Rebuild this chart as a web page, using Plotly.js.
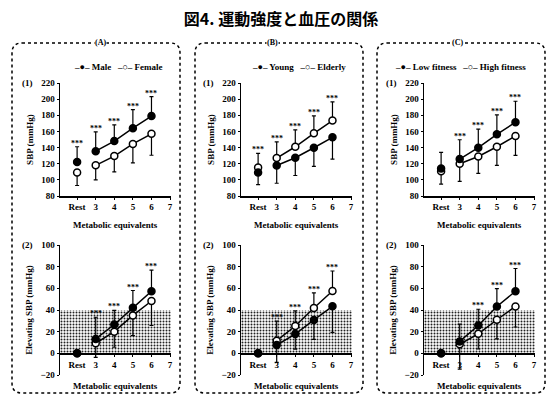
<!DOCTYPE html>
<html><head><meta charset="utf-8">
<script src="https://cdn.plot.ly/plotly-3.0.1.min.js"></script>
<style>html,body{margin:0;padding:0;background:#fff}</style>
</head><body><div id="chart" style="width:549px;height:396px"></div>
<script>
// ---------- data ----------
const stageX = [2, 3, 4, 5, 6];
const tickVals = [2, 3, 4, 5, 6, 7];
const tickText = ['Rest', '3', '4', '5', '6', '7'];
const band = [0, 40];

// (A) sex
const maleSBP = [122, 135.5, 148, 164, 179];
const maleSBPErr = [19, 24, 20, 23, 24];
const femaleSBP = [109, 118, 129.5, 144.5, 157];
const femaleSBPErr = [16, 18, 19.5, 23.5, 26.5];
const maleRise = [0, 13.3, 26.6, 42, 57.3];
const maleRiseErr = [0, 20, 13, 16, 19.5];
const femaleRise = [0, 9.3, 20, 35, 48.3];
const femaleRiseErr = [0, 13, 14.4, 18.6, 22.6];
const sigSBP_A = ['***', '***', '***', '***', '***'];
const sigRise_A = ['', '***', '***', '***', '***'];

// (B) age
const youngSBP = [109, 117.8, 127.4, 139.8, 152.7];
const youngSBPErr = [15, 22, 22, 23, 27];
const elderlySBP = [115.3, 127, 141, 157.7, 173.5];
const elderlySBPErr = [17.5, 20, 21, 21.6, 23];
const youngRise = [0, 7.7, 17.8, 30.8, 43.4];
const youngRiseErr = [0, 16, 14, 18, 24];
const elderlyRise = [0, 11.7, 25.2, 41.8, 57.5];
const elderlyRiseErr = [0, 18, 14, 14, 18.5];
const sigSBP_B = ['***', '***', '***', '***', '***'];
const sigRise_B = ['', '***', '***', '***', '***'];

// (C) fitness
const lowFitSBP = [114, 125.7, 139.8, 156.4, 171.4];
const lowFitSBPErr = [20, 24, 23, 24, 26];
const highFitSBP = [110.7, 120, 129, 141, 154.4];
const highFitSBPErr = [16, 22, 21, 23, 24];
const lowFitRise = [0, 11, 25.7, 43.3, 57.3];
const lowFitRiseErr = [0, 16, 15, 16.5, 21];
const highFitRise = [0, 8.4, 18, 31, 43.3];
const highFitRiseErr = [0, 23, 14, 17.6, 19];
const sigSBP_C = ['', '***', '***', '***', '***'];
const sigRise_C = ['', '', '***', '***', '***'];

const panelLetters = ['(A)', '(B)', '(C)'];
const legendNames = [['Male', 'Female'], ['Young', 'Elderly'], ['Low fitness', 'High fitness']];
const xTitle = 'Metabolic equivalents';

// ---------- geometry ----------
const W = 549, H = 396;
const PX = x => x / W, PY = y => 1 - y / H;
const axLeft = [60, 241, 424], axW = 111;
const topPx = [83, 196], botPx = [245, 375];
const xTitlePx = [225, 386];
const boxX = [[12, 180], [195, 363], [377, 545]], boxY = [43, 393];
const letterX = [100, 272, 457];
const legendCX = [118, 299, 460];
const xRange = [1.08, 7.05];
const topRange = [80, 220], botRange = [-20, 100];

const serif = {family: 'Liberation Serif, DejaVu Serif, serif', size: 9, color: '#000', weight: 'bold'};

const panels = [
  {filled: [maleSBP, maleSBPErr, maleRise, maleRiseErr], open: [femaleSBP, femaleSBPErr, femaleRise, femaleRiseErr], filledUp: true, sig: [sigSBP_A, sigRise_A]},
  {filled: [youngSBP, youngSBPErr, youngRise, youngRiseErr], open: [elderlySBP, elderlySBPErr, elderlyRise, elderlyRiseErr], filledUp: false, sig: [sigSBP_B, sigRise_B]},
  {filled: [lowFitSBP, lowFitSBPErr, lowFitRise, lowFitRiseErr], open: [highFitSBP, highFitSBPErr, highFitRise, highFitRiseErr], filledUp: true, sig: [sigSBP_C, sigRise_C]}
];

const traces = [], annotations = [], shapes = [];
const layout = {
  width: W, height: H, margin: {l: 0, r: 0, t: 0, b: 0},
  paper_bgcolor: '#fff', plot_bgcolor: 'rgba(0,0,0,0)', showlegend: false,
  title: {text: '図4. 運動強度と血圧の関係', x: 281 / W, xanchor: 'center', y: 1 - 19 / H, yanchor: 'middle',
          font: {family: 'Noto Sans CJK JP', size: 16, color: '#000', weight: 'bold'}},
  annotations: annotations, shapes: shapes
};

function series(xa, ya, vals, err, dir, filled) {
  const zeros = err.map(() => 0);
  const up = dir === 'up';
  const mk = sl => ({type: 'data', symmetric: false, array: (up ? err : zeros).slice(sl[0], sl[1]),
                     arrayminus: (up ? zeros : err).slice(sl[0], sl[1]), color: '#000', thickness: 1.2, width: 2});
  const marker = {size: 7, color: filled ? '#000' : '#fff', line: {color: '#000', width: 1.5}, symbol: 'circle'};
  traces.push({type: 'scatter', mode: 'markers', x: stageX.slice(0, 1), y: vals.slice(0, 1), xaxis: xa, yaxis: ya,
               marker: marker, error_y: mk([0, 1]), hoverinfo: 'skip', cliponaxis: false});
  traces.push({type: 'scatter', mode: 'lines+markers', x: stageX.slice(1), y: vals.slice(1), xaxis: xa, yaxis: ya,
               line: {color: '#000', width: 1.5}, marker: marker, error_y: mk([1, 5]), hoverinfo: 'skip', cliponaxis: false});
}

panels.forEach((p, i) => {
  const xd = [PX(axLeft[i]), PX(axLeft[i] + axW)];
  [0, 1].forEach(k => {
    const n = i * 2 + k + 1;
    const xa = n === 1 ? 'x' : 'x' + n, ya = n === 1 ? 'y' : 'y' + n;
    const xk = n === 1 ? 'xaxis' : 'xaxis' + n, yk = n === 1 ? 'yaxis' : 'yaxis' + n;
    const yPx = k === 0 ? topPx : botPx;
    const yd = [PY(yPx[1]), PY(yPx[0])];
    const yr = k === 0 ? topRange : botRange;
    const xAxis = {domain: xd, range: xRange, showline: true, linecolor: '#000', linewidth: 1.5,
                   ticks: 'outside', ticklen: 2, tickcolor: '#000', tickvals: tickVals, ticktext: tickText,
                   tickfont: serif, showgrid: false, zeroline: false, fixedrange: true};
    if (k === 0) { xAxis.anchor = ya; }
    else { xAxis.anchor = 'free'; xAxis.position = yd[0] + (0 - yr[0]) / (yr[1] - yr[0]) * (yd[1] - yd[0]); }
    annotations.push({xref: 'paper', yref: 'paper', x: (xd[0] + xd[1]) / 2, y: PY(xTitlePx[k]), text: xTitle, showarrow: false,
                      xanchor: 'center', yanchor: 'middle', font: serif});
    layout[xk] = xAxis;
    layout[yk] = {domain: yd, range: yr, anchor: xa, showline: true, linecolor: '#000', linewidth: 1.5,
                  ticks: 'outside', ticklen: 2, tickcolor: '#000', dtick: 20, tickfont: serif,
                  showgrid: false, zeroline: false, fixedrange: true,
                  title: {text: k === 0 ? 'SBP (mmHg)' : 'Elevating SBP (mmHg)', font: serif, standoff: 6}};
    if (k === 1) {
      traces.push({type: 'scatter', mode: 'none', x: [xRange[0], xRange[1], xRange[1], xRange[0]], y: [band[0], band[0], band[1], band[1]],
                   xaxis: xa, yaxis: ya, fill: 'toself', fillcolor: 'rgba(0,0,0,0)',
                   fillpattern: {shape: '.', fgcolor: '#222', bgcolor: '#fff', size: 3, solidity: 0.35}, hoverinfo: 'skip'});
    }
    const fV = p.filled[k * 2], fE = p.filled[k * 2 + 1], oV = p.open[k * 2], oE = p.open[k * 2 + 1];
    series(xa, ya, oV, oE, p.filledUp ? 'down' : 'up', false);
    series(xa, ya, fV, fE, p.filledUp ? 'up' : 'down', true);
    const upV = p.filledUp ? fV : oV, upE = p.filledUp ? fE : oE;
    p.sig[k].forEach((s, j) => {
      if (!s) return;
      annotations.push({xref: xa, yref: ya, x: stageX[j], y: upV[j] + upE[j], text: s, showarrow: false,
                        yanchor: 'bottom', yshift: -3, font: {family: serif.family, size: 8, color: '#000', weight: 'bold'}});
    });
    annotations.push({xref: 'paper', yref: 'paper', x: PX(axLeft[i] - 25), y: PY(yPx[0]), text: k === 0 ? '(1)' : '(2)',
                      showarrow: false, xanchor: 'right', yanchor: 'middle', font: serif});
  });
  const x0 = PX(boxX[i][0]), x1 = PX(boxX[i][1]), yT = PY(boxY[0]), yB = PY(boxY[1]);
  const rx = 10 / W, ry = 10 / H;
  shapes.push({type: 'path', xref: 'paper', yref: 'paper', layer: 'below',
    path: `M${x0 + rx},${yT} L${x1 - rx},${yT} Q${x1},${yT} ${x1},${yT - ry} L${x1},${yB + ry} Q${x1},${yB} ${x1 - rx},${yB} L${x0 + rx},${yB} Q${x0},${yB} ${x0},${yB + ry} L${x0},${yT - ry} Q${x0},${yT} ${x0 + rx},${yT} Z`,
    line: {color: '#000', width: 1.5, dash: 'dot'}});
  annotations.push({xref: 'paper', yref: 'paper', x: PX(letterX[i]), y: PY(boxY[0]), text: panelLetters[i], showarrow: false,
                    xanchor: 'center', yanchor: 'middle', bgcolor: '#fff', borderpad: 0,
                    font: {family: serif.family, size: 8, color: '#000', weight: 'bold'}});
  annotations.push({xref: 'paper', yref: 'paper', x: PX(legendCX[i]), y: PY(67), showarrow: false, xanchor: 'center', yanchor: 'middle',
                    text: '–●– ' + legendNames[i][0] + '   –○– ' + legendNames[i][1], font: serif});
});

Plotly.newPlot('chart', traces, layout, {staticPlot: true, displayModeBar: false});
</script></body></html>
